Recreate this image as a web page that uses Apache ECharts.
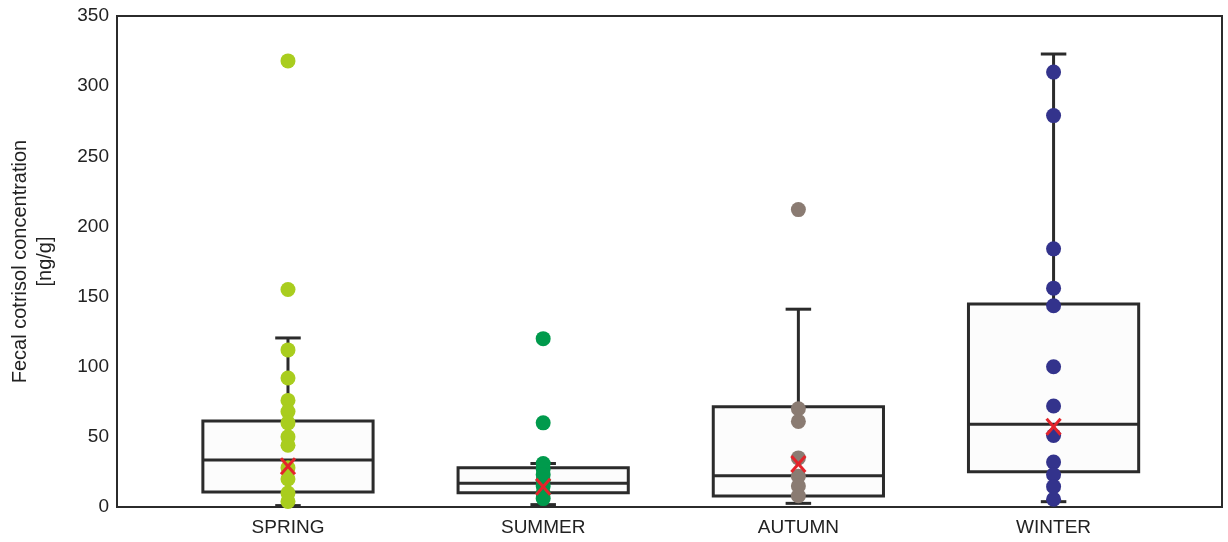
<!DOCTYPE html>
<html>
<head>
<meta charset="utf-8">
<script src="https://cdn.jsdelivr.net/npm/echarts@6/dist/echarts.min.js"></script>
<style>
html,body{margin:0;padding:0;background:#fff;}
#chart{width:1228px;height:542px;}
</style>
</head>
<body>
<div id="chart"></div>
<script>
const categories = ['SPRING', 'SUMMER', 'AUTUMN', 'WINTER'];
const yTicks = [0, 50, 100, 150, 200, 250, 300, 350];

const whiskerLow  = [1.0, 1.7, 2.6, 3.8];
const quartile1   = [10.7, 10.2, 7.8, 25.2];
const medians     = [33.5, 16.9, 22.3, 58.9];
const quartile3   = [61.3, 28.0, 71.5, 144.7];
const whiskerHigh = [120.5, 31.0, 141.0, 322.9];
const means       = [29.0, 14.5, 30.6, 57.2];

const springPoints = [318, 155, 112, 92, 76, 68, 60, 50, 44, 28, 20, 10, 4];
const summerPoints = [120, 60, 31, 27, 23, 19, 15, 10, 6];
const autumnPoints = [212, 70, 61, 35, 22, 15, 8];
const winterPoints = [310, 279, 184, 156, 143.5, 100, 72, 51, 32, 23, 14.5, 5.5];

const pointSets = [springPoints, summerPoints, autumnPoints, winterPoints];
const pointColors = ['#a9cd1e', '#009a4c', '#8a7b72', '#33338c'];

const BOX_W = 0.667, CAP_W = 0.1;
const INK = '#2b2b2b';
const FONT = 'Liberation Sans, Arial, sans-serif';

const boxData = categories.map((c, i) => [i, whiskerLow[i], quartile1[i], medians[i], quartile3[i], whiskerHigh[i]]);
const meanData = categories.map((c, i) => [i, means[i]]);

function renderBox(params, api) {
  const i = api.value(0);
  const half = api.size([BOX_W, 0])[0] / 2;
  const capHalf = api.size([CAP_W, 0])[0] / 2;
  const pMin = api.coord([i, api.value(1)]);
  const pQ1 = api.coord([i, api.value(2)]);
  const pMed = api.coord([i, api.value(3)]);
  const pQ3 = api.coord([i, api.value(4)]);
  const pMax = api.coord([i, api.value(5)]);
  const x = pMed[0];
  const st = {stroke: INK, lineWidth: 3};
  return {
    type: 'group',
    children: [
      {type: 'line', shape: {x1: x, y1: pMin[1], x2: x, y2: pMax[1]}, style: st},
      {type: 'line', shape: {x1: x - capHalf, y1: pMin[1], x2: x + capHalf, y2: pMin[1]}, style: st},
      {type: 'line', shape: {x1: x - capHalf, y1: pMax[1], x2: x + capHalf, y2: pMax[1]}, style: st},
      {type: 'rect', shape: {x: x - half, y: pQ3[1], width: 2 * half, height: pQ1[1] - pQ3[1]},
        style: {fill: '#fcfcfc', stroke: INK, lineWidth: 3}},
      {type: 'line', shape: {x1: x - half, y1: pMed[1], x2: x + half, y2: pMed[1]}, style: st}
    ]
  };
}

function renderMean(params, api) {
  const p = api.coord([api.value(0), api.value(1)]);
  const w = 7, h = 8;
  const st = {stroke: '#e3242b', lineWidth: 3};
  return {
    type: 'group',
    children: [
      {type: 'line', shape: {x1: p[0] - w, y1: p[1] - h, x2: p[0] + w, y2: p[1] + h}, style: st},
      {type: 'line', shape: {x1: p[0] + w, y1: p[1] - h, x2: p[0] - w, y2: p[1] + h}, style: st}
    ]
  };
}

const series = [{
  type: 'custom',
  renderItem: renderBox,
  data: boxData,
  encode: {x: 0, y: [1, 2, 3, 4, 5]},
  z: 2,
  silent: true
}];
pointSets.forEach((pts, i) => {
  series.push({
    type: 'scatter',
    name: categories[i],
    data: pts.map(v => [i, v]),
    symbol: 'circle',
    symbolSize: 15,
    itemStyle: {color: pointColors[i], opacity: 1},
    z: 3,
    silent: true
  });
});
series.push({
  type: 'custom',
  renderItem: renderMean,
  data: meanData,
  encode: {x: 0, y: 1},
  z: 4,
  silent: true
});

const chart = echarts.init(document.getElementById('chart'), null, {renderer: 'canvas'});
chart.setOption({
  animation: false,
  backgroundColor: '#fff',
  textStyle: {fontFamily: FONT},
  grid: {
    left: 117, right: 6, top: 16, bottom: 35,
    containLabel: false,
    outerBoundsMode: 'none',
    show: true, borderColor: INK, borderWidth: 2, backgroundColor: '#fff'
  },
  xAxis: {
    type: 'value',
    min: -0.67,
    max: 3.66,
    splitLine: {show: false},
    axisTick: {show: false},
    axisLine: {show: true, onZero: false, lineStyle: {color: INK, width: 2}},
    axisLabel: {
      customValues: [0, 1, 2, 3],
      formatter: v => categories[Math.round(v)] || '',
      color: '#222', fontSize: 19, margin: 11, fontFamily: FONT
    }
  },
  yAxis: {
    type: 'value',
    min: yTicks[0],
    max: yTicks[yTicks.length - 1],
    interval: 50,
    splitLine: {show: false},
    axisTick: {show: false},
    axisLine: {show: true, onZero: false, lineStyle: {color: INK, width: 2}},
    axisLabel: {color: '#222', fontSize: 19, margin: 8, fontFamily: FONT},
    name: 'Fecal cotrisol concentration\n[ng/g]',
    nameLocation: 'middle',
    nameGap: 59,
    nameTextStyle: {color: '#222', fontSize: 20, lineHeight: 25, fontFamily: FONT}
  },
  series: series
});
</script>
</body>
</html>
